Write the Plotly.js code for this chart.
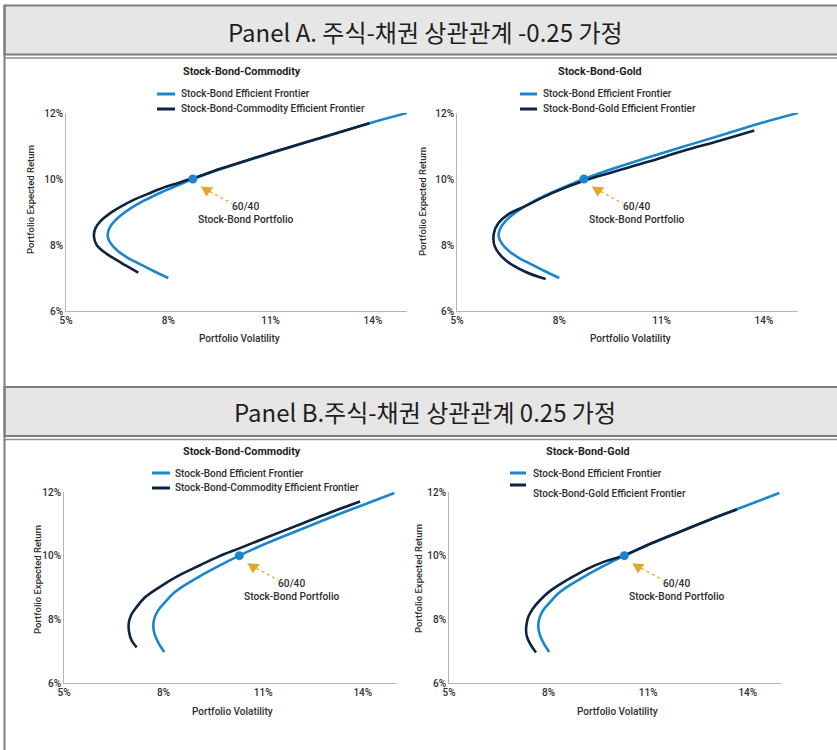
<!DOCTYPE html>
<html>
<head>
<meta charset="utf-8">
<script src="https://cdn.plot.ly/plotly-3.0.1.min.js"></script>
<style>
  html, body { margin: 0; padding: 0; background: #ffffff; }
  #chart { width: 837px; height: 750px; }
</style>
</head>
<body>
<div id="chart"></div>
<script>
// ---- axis ticks ----
const volTicks = [5, 8, 11, 14];
const volTickText = ['5%', '8%', '11%', '14%'];
const retTicks = [6, 8, 10, 12];
const retTickText = ['6%', '8%', '10%', '12%'];

// ---- Panel A: stock-bond correlation -0.25 ----
const aStockBondVol = [8.00, 7.55, 7.17, 6.80, 6.52, 6.33, 6.23, 6.24, 6.34, 6.55, 6.85, 7.30, 7.80, 8.30, 8.72, 9.50, 10.50, 11.60, 12.70, 13.90, 15.00];
const aStockBondRet = [7.00, 7.22, 7.42, 7.62, 7.82, 8.02, 8.22, 8.42, 8.62, 8.85, 9.08, 9.35, 9.60, 9.82, 10.00, 10.29, 10.62, 10.97, 11.31, 11.69, 12.00];
const aCommodityVol = [7.12, 6.75, 6.39, 6.10, 5.90, 5.82, 5.86, 6.02, 6.29, 6.62, 6.97, 7.45, 7.95, 8.72, 9.50, 10.50, 11.60, 12.70, 13.90];
const aCommodityRet = [7.16, 7.38, 7.60, 7.80, 8.00, 8.25, 8.50, 8.73, 8.96, 9.17, 9.36, 9.57, 9.77, 10.02, 10.30, 10.63, 10.98, 11.32, 11.69];
const aGoldVol = [7.60, 7.00, 6.41, 6.11, 6.08, 6.21, 6.50, 7.00, 7.80, 8.72, 9.60, 10.60, 11.60, 12.70, 13.72];
const aGoldRet = [6.97, 7.19, 7.55, 7.95, 8.35, 8.66, 8.93, 9.18, 9.58, 9.95, 10.22, 10.52, 10.84, 11.16, 11.47];
const aPortfolioVol = [8.72];
const aPortfolioRet = [10.00];

// ---- Panel B: stock-bond correlation 0.25 ----
const bStockBondVol = [8.02, 7.85, 7.74, 7.69, 7.72, 7.84, 8.05, 8.29, 8.65, 9.10, 9.65, 10.28, 11.10, 12.05, 13.00, 13.85, 14.95];
const bStockBondRet = [6.97, 7.25, 7.50, 7.76, 8.02, 8.29, 8.55, 8.81, 9.08, 9.36, 9.67, 10.00, 10.39, 10.79, 11.19, 11.53, 11.97];
const bCommodityVol = [7.19, 7.03, 6.96, 6.95, 7.02, 7.19, 7.45, 7.89, 8.45, 9.10, 9.65, 10.28, 11.10, 12.10, 13.00, 13.92];
const bCommodityRet = [7.12, 7.35, 7.60, 7.87, 8.13, 8.39, 8.70, 9.02, 9.37, 9.70, 9.97, 10.23, 10.57, 10.98, 11.35, 11.70];
const bGoldVol = [7.62, 7.44, 7.35, 7.32, 7.34, 7.39, 7.53, 7.74, 8.02, 8.39, 8.80, 9.20, 9.70, 10.28, 11.10, 12.05, 13.00, 13.67];
const bGoldRet = [6.96, 7.24, 7.45, 7.66, 7.87, 8.08, 8.34, 8.60, 8.87, 9.13, 9.38, 9.60, 9.82, 10.01, 10.39, 10.79, 11.19, 11.45];
const bPortfolioVol = [10.28];
const bPortfolioRet = [10.00];

// ---- text ----
const panelHeaders = ['Panel A. 주식-채권 상관관계 -0.25 가정', 'Panel B.주식-채권 상관관계 0.25 가정'];
const chartTitles = ['Stock-Bond-Commodity', 'Stock-Bond-Gold', 'Stock-Bond-Commodity', 'Stock-Bond-Gold'];
const baseName = 'Stock-Bond Efficient Frontier';
const altNames = ['Stock-Bond-Commodity Efficient Frontier', 'Stock-Bond-Gold Efficient Frontier',
                  'Stock-Bond-Commodity Efficient Frontier', 'Stock-Bond-Gold Efficient Frontier'];
const portfolioLabel = '60/40<br>Stock-Bond Portfolio';
const xTitle = 'Portfolio Volatility';
const yTitle = 'Portfolio Expected Return';

// ---- styling ----
const W = 837, H = 750;
const BLUE = '#1a86cf', NAVY = '#0c2341', GOLD = '#e2a62b', AXIS = '#b5b5b5', TXT = '#2e2e2e';
const FONT = "Roboto, 'Liberation Sans', sans-serif";
const HEAD_FONT = "'Noto Sans CJK KR', sans-serif";
const px = v => v / W;
const py = v => 1 - v / H;
const txt = (size, extra) => Object.assign({ family: FONT, size: size, color: TXT, weight: 500 }, extra || {});

// each chart: plot box (pixels) and its legend / title placement
const charts = [
  { ax: '', box: [66, 407, 113, 311], base: [aStockBondVol, aStockBondRet], alt: [aCommodityVol, aCommodityRet],
    dot: [aPortfolioVol, aPortfolioRet], titleX: 242, titleY: 71,
    leg: { x0: 157, x1: 175, tx: 180, y1: 94, y2: 109, t2: 109 }, yTitleX: 31, yTitleY: 200, xTitleX: 239, xTitleY: 339 },
  { ax: '2', box: [457, 798, 113, 311], base: [aStockBondVol, aStockBondRet], alt: [aGoldVol, aGoldRet],
    dot: [aPortfolioVol, aPortfolioRet], titleX: 600, titleY: 71,
    leg: { x0: 520, x1: 537, tx: 542, y1: 94, y2: 109, t2: 109 }, yTitleX: 423, yTitleY: 202, xTitleX: 630, xTitleY: 339 },
  { ax: '3', box: [64, 396, 492, 683], base: [bStockBondVol, bStockBondRet], alt: [bCommodityVol, bCommodityRet],
    dot: [bPortfolioVol, bPortfolioRet], titleX: 242, titleY: 451,
    leg: { x0: 152, x1: 170, tx: 174, y1: 473, y2: 488, t2: 488 }, yTitleX: 37, yTitleY: 580, xTitleX: 233, xTitleY: 711 },
  { ax: '4', box: [449, 781, 492, 683], base: [bStockBondVol, bStockBondRet], alt: [bGoldVol, bGoldRet],
    dot: [bPortfolioVol, bPortfolioRet], titleX: 588, titleY: 451,
    leg: { x0: 510, x1: 526, tx: 532, y1: 473, y2: 485, t2: 494 }, yTitleX: 418, yTitleY: 579, xTitleX: 617, xTitleY: 711 }
];

const data = [];
const shapes = [];
const annotations = [];
const layout = {
  width: W, height: H,
  margin: { l: 0, r: 0, t: 0, b: 0 },
  paper_bgcolor: '#ffffff', plot_bgcolor: 'rgba(0,0,0,0)',
  showlegend: false,
  font: txt(10),
  shapes: shapes, annotations: annotations
};

charts.forEach((c, i) => {
  const xa = 'x' + c.ax, ya = 'y' + c.ax;
  const [l, r, t, b] = c.box;
  layout['xaxis' + c.ax] = {
    domain: [px(l), px(r)], range: [5, 15], anchor: ya,
    tickvals: volTicks, ticktext: volTickText, ticks: '', showgrid: false, zeroline: false,
    showline: true, linecolor: AXIS, linewidth: 1, fixedrange: true,
    tickfont: txt(10)
  };
  layout['yaxis' + c.ax] = {
    domain: [py(b), py(t)], range: [6, 12], anchor: xa,
    tickvals: retTicks, ticktext: retTickText, ticks: '', showgrid: false, zeroline: false,
    showline: true, linecolor: AXIS, linewidth: 1, fixedrange: true,
    tickfont: txt(10)
  };

  // frontier curves, stock-bond first so the extended frontier sits on top
  data.push({ type: 'scatter', mode: 'lines', name: baseName, x: c.base[0], y: c.base[1], xaxis: xa, yaxis: ya,
    line: { color: BLUE, width: 2.6, shape: 'spline', smoothing: 1 }, hoverinfo: 'skip' });
  data.push({ type: 'scatter', mode: 'lines', name: altNames[i], x: c.alt[0], y: c.alt[1], xaxis: xa, yaxis: ya,
    line: { color: NAVY, width: 2.6, shape: 'spline', smoothing: 1 }, hoverinfo: 'skip' });
  data.push({ type: 'scatter', mode: 'markers', name: '60/40', x: c.dot[0], y: c.dot[1], xaxis: xa, yaxis: ya,
    marker: { color: BLUE, size: 9 }, hoverinfo: 'skip' });

  // dashed pointer with a triangular head, sized in pixels around the 60/40 point
  const anchor = { xref: xa, yref: ya, xsizemode: 'pixel', ysizemode: 'pixel', xanchor: c.dot[0][0], yanchor: c.dot[1][0] };
  shapes.push(Object.assign({ type: 'line', x0: 17, y0: -12.5, x1: 39, y1: -24.5,
    line: { color: GOLD, width: 1.2, dash: 'dot' } }, anchor));
  shapes.push(Object.assign({ type: 'path', path: 'M8,-7.5 L20.5,-8.5 L13.5,-17.5 Z',
    fillcolor: GOLD, line: { width: 0 } }, anchor));
  annotations.push({ xref: xa, yref: ya, x: c.dot[0][0], y: c.dot[1][0], xshift: 53, yshift: -34,
    text: portfolioLabel, showarrow: false, align: 'center', xanchor: 'center', yanchor: 'middle',
    font: txt(10.2) });

  // chart title
  annotations.push({ xref: 'paper', yref: 'paper', x: px(c.titleX), y: py(c.titleY), text: '<b>' + chartTitles[i] + '</b>',
    showarrow: false, xanchor: 'center', yanchor: 'middle', font: txt(10.8, { color: '#1f1f1f', weight: 700 }) });

  // legend
  const g = c.leg;
  shapes.push({ type: 'line', xref: 'paper', yref: 'paper', x0: px(g.x0), x1: px(g.x1), y0: py(g.y1), y1: py(g.y1),
    line: { color: BLUE, width: 3 } });
  shapes.push({ type: 'line', xref: 'paper', yref: 'paper', x0: px(g.x0), x1: px(g.x1), y0: py(g.y2), y1: py(g.y2),
    line: { color: NAVY, width: 3 } });
  annotations.push({ xref: 'paper', yref: 'paper', x: px(g.tx), y: py(g.y1), text: baseName, showarrow: false,
    xanchor: 'left', yanchor: 'middle', borderpad: 0, font: txt(10) });
  annotations.push({ xref: 'paper', yref: 'paper', x: px(g.tx), y: py(g.t2), text: altNames[i], showarrow: false,
    xanchor: 'left', yanchor: 'middle', borderpad: 0, font: txt(10) });

  // axis titles
  annotations.push({ xref: 'paper', yref: 'paper', x: px(c.xTitleX), y: py(c.xTitleY), text: xTitle, showarrow: false,
    xanchor: 'center', yanchor: 'middle', font: txt(10) });
  annotations.push({ xref: 'paper', yref: 'paper', x: px(c.yTitleX), y: py(c.yTitleY), text: yTitle, showarrow: false,
    textangle: -90, xanchor: 'center', yanchor: 'middle', font: txt(9.5) });
});

// panel header bars
const headerBars = [[5.5, 54.5, 58, 31], [387, 436, 439.5, 411]];
headerBars.forEach((h, i) => {
  shapes.push({ type: 'rect', xref: 'paper', yref: 'paper', x0: px(4.5), x1: px(845), y0: py(h[1]), y1: py(h[0]),
    fillcolor: '#e6e6e6', line: { color: '#7d7d7d', width: 2 }, layer: 'below' });
  shapes.push({ type: 'line', xref: 'paper', yref: 'paper', x0: px(4.5), x1: 1, y0: py(h[2]), y1: py(h[2]),
    line: { color: '#8c8c8c', width: 1.5 } });
  annotations.push({ xref: 'paper', yref: 'paper', x: px(425), y: py(h[3]), text: panelHeaders[i], showarrow: false,
    xanchor: 'center', yanchor: 'middle', font: { family: HEAD_FONT, size: 24, color: '#1e1e1e', weight: 400 } });
});
// left frame rule
shapes.push({ type: 'line', xref: 'paper', yref: 'paper', x0: px(4.5), x1: px(4.5), y0: 0, y1: py(5.5),
  line: { color: '#7d7d7d', width: 2 } });

Plotly.newPlot('chart', data, layout, { displayModeBar: false, staticPlot: true });
</script>
</body>
</html>
